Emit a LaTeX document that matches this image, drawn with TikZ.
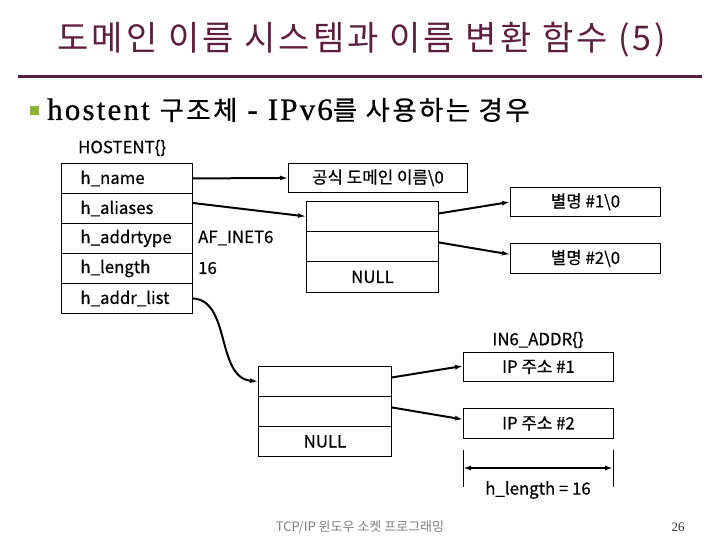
\documentclass[tikz,border=0pt]{standalone}
\usepackage{fontspec}
\setmainfont{Liberation Serif}
\newfontfamily\kr{Noto Sans CJK KR}
\newfontfamily\krd[FakeBold=0.6]{Noto Sans CJK KR}
\newfontfamily\krt[LetterSpace=9]{Noto Sans CJK KR}
\newfontfamily\krs[LetterSpace=9,FakeBold=0.5]{Noto Sans CJK KR}
\newfontfamily\serifs[LetterSpace=7,FakeBold=0.8]{Liberation Serif}
\usetikzlibrary{arrows.meta,calc}
\definecolor{maroon}{HTML}{5E1E40}
\definecolor{bulgreen}{HTML}{8DB52E}
\tikzset{
  dg/.style={font=\krd\fontsize{16.8}{19}\selectfont},
  cell/.style={draw, line width=0.9pt, minimum height=30pt, inner sep=0pt, anchor=north west, dg},
  lcell/.style={cell, text width=131pt, align=left},
  box/.style={draw, line width=0.9pt, inner sep=0pt, anchor=north west, dg},
  arr/.style={line width=2pt, -{Latex[length=8pt,width=5pt]}},
}
\begin{document}
\begin{tikzpicture}[x=1pt,y=-1pt]
\useasboundingbox[fill=white] (0,0) rectangle (720,540);
% title
\node[text=maroon, font=\krt\fontsize{34}{36}\selectfont] (title) at (362,40) {도메인 이름 시스템과 이름 변환 함수 (5)};
\draw[maroon, line width=3pt] (18,77) coordinate (r1) -- (702,77) coordinate (r2);
% subtitle
\node[fill=bulgreen, minimum size=9pt, inner sep=0pt] (bullet) at (34.5,111) {};
\node[anchor=west, inner sep=0pt, font=\serifs\fontsize{31}{33}\selectfont] (sub) at (47,110)
  {hostent {\krs\fontsize{26.5}{30}\selectfont 구조체} - IPv6{\krs\fontsize{26.5}{30}\selectfont 를 사용하는 경우}};
% HOSTENT table
\node[dg, anchor=west, inner sep=0pt] (hostent) at (78,148) {HOSTENT\{\}};
\node[lcell] (hname)  at (61,163) {\hspace*{19pt}h\_name};
\node[lcell] (halias) at (61,193) {\hspace*{19pt}h\_aliases};
\node[lcell] (htype)  at (61,223) {\hspace*{19pt}h\_addrtype};
\node[lcell] (hlen)   at (61,253) {\hspace*{19pt}h\_length};
\node[lcell] (hlist)  at (61,283) {\hspace*{19pt}h\_addr\_list};
\node[dg, anchor=west, inner sep=0pt] (aftype) at (198,238) {AF\_INET6};
\node[dg, anchor=west, inner sep=0pt] (lenval) at (198,268) {16};
% official name
\node[box, minimum width=179pt, minimum height=29pt] (gong) at (288,163) {공식 도메인 이름\textbackslash 0};
% alias array
\node[cell, minimum width=132pt] (al1) at (306,201) {};
\node[cell, minimum width=132pt] (al2) at (306,231) {};
\node[cell, minimum width=132pt, minimum height=31pt] (al3) at (306,261) {NULL};
% alias strings
\node[box, minimum width=150pt, minimum height=29pt] (bm1) at (510,187) {별명 \#1\textbackslash 0};
\node[box, minimum width=150pt, minimum height=30pt] (bm2) at (510,243) {별명 \#2\textbackslash 0};
% addr array
\node[cell, minimum width=133pt] (ad1) at (258,366) {};
\node[cell, minimum width=133pt] (ad2) at (258,396) {};
\node[cell, minimum width=133pt] (ad3) at (258,426) {NULL};
% IN6_ADDR
\node[dg, inner sep=0pt] (in6) at (538,340) {IN6\_ADDR\{\}};
\node[box, minimum width=150pt, minimum height=29pt] (ip1) at (463,352) {IP 주소 \#1};
\node[box, minimum width=150pt, minimum height=30pt] (ip2) at (463,408) {IP 주소 \#2};
% arrows
\draw[arr] (hname.east) -- (gong.west);
\draw[arr] ($(halias.north east)+(0,10)$) -- (al1.west);
\draw[arr] ($(al1.east)+(0,-3)$) -- (bm1.west);
\draw[arr] ($(al2.east)+(0,-4)$) -- ($(bm2.west)+(0,-4)$);
\draw[arr] (hlist.east) .. controls +(38,2) and +(-42,-4) .. (ad1.west);
\draw[arr] ($(ad1.east)+(0,-4)$) -- ($(ip1.west)+(0,-1)$);
\draw[arr] ($(ad2.east)+(0,-4)$) -- ($(ip2.west)+(0,-4)$);
% dimension
\coordinate (t1) at (463,450); \coordinate (b1) at (463,487);
\coordinate (t2) at (613,450); \coordinate (b2) at (613,487);
\draw[line width=0.9pt] (t1) -- (b1);
\draw[line width=0.9pt] (t2) -- (b2);
\coordinate (m1) at (463,468); \coordinate (m2) at (613,468);
\draw[line width=2pt, {Latex[length=8pt,width=5pt]}-{Latex[length=8pt,width=5pt]}] (m1) -- (m2);
\node[dg, inner sep=0pt] (hlabel) at (538,490) {h\_length = 16};
% footer
\node[text=gray, font=\kr\fontsize{13}{15}\selectfont] (foot) at (360,527) {TCP/IP 윈도우 소켓 프로그래밍};
\node[text=black!80, font=\fontsize{13}{15}\selectfont] (page) at (678,527) {26};
\end{tikzpicture}
\end{document}
